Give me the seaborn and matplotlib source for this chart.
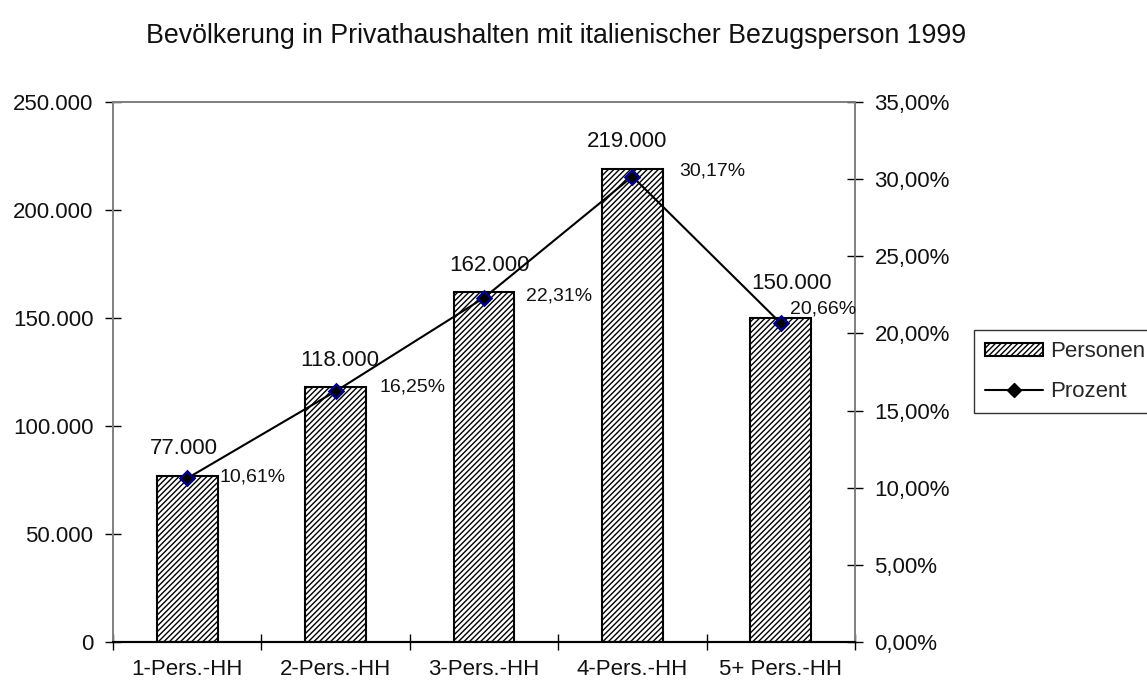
import matplotlib
matplotlib.use("Agg")
import matplotlib.pyplot as plt
from matplotlib.ticker import FuncFormatter, FixedLocator
from matplotlib.lines import Line2D
from matplotlib.patches import Patch
import seaborn as sns

categories = ["1-Pers.-HH", "2-Pers.-HH", "3-Pers.-HH", "4-Pers.-HH", "5+ Pers.-HH"]
personen = [77000, 118000, 162000, 219000, 150000]
prozent = [10.61, 16.25, 22.31, 30.17, 20.66]

# label placement (pixel offsets from the mark)
bar_label_offsets = [(-3, 27), (4, 27), (6, 27), (-5, 27), (11, 35)]
pct_label_offsets = [(32, 1), (44, 4), (42, 2), (47, 6), (9, 14)]

sns.set_theme(style="white")
plt.rcParams["font.family"] = ["Liberation Sans", "DejaVu Sans"]
plt.rcParams["hatch.color"] = "#444444"
plt.rcParams["hatch.linewidth"] = 1.0

FS = 16

fig = plt.figure(figsize=(11.47, 6.86), dpi=100)
ax = fig.add_axes([0.0985, 0.0641, 0.6469, 0.7872])

sns.barplot(x=categories, y=personen, color="white", width=0.41,
            edgecolor="black", linewidth=1.5, ax=ax, saturation=1)
for bar in ax.patches:
    bar.set_hatch("//////")

ax.set_xlim(-0.5, 4.5)
ax.set_ylim(0, 250000)
ax.set_xlabel("")
ax.set_ylabel("")

def de_int(v, pos):
    return f"{int(round(v)):,}".replace(",", ".")

def de_pct(v, pos=None):
    return f"{v:.2f}".replace(".", ",") + "%"

ax.yaxis.set_major_locator(FixedLocator([0, 50000, 100000, 150000, 200000, 250000]))
ax.yaxis.set_major_formatter(FuncFormatter(de_int))

for i, v in enumerate(personen):
    dx, dy = bar_label_offsets[i]
    ax.annotate(de_int(v, None), (i, v), xytext=(dx, dy), textcoords="offset pixels",
                ha="center", va="center", fontsize=FS, color="#111111")

ax2 = ax.twinx()
sns.lineplot(x=categories, y=prozent, ax=ax2, color="black", linewidth=1.5,
             marker="D", markersize=7, markerfacecolor="black",
             markeredgecolor="#000080", markeredgewidth=1.8, sort=False)
ax2.set_ylim(0, 35)
ax2.set_ylabel("")
ax2.yaxis.set_major_locator(FixedLocator([0, 5, 10, 15, 20, 25, 30, 35]))
ax2.yaxis.set_major_formatter(FuncFormatter(de_pct))

for i, v in enumerate(prozent):
    dx, dy = pct_label_offsets[i]
    ax2.annotate(de_pct(v), (i, v), xytext=(dx, dy), textcoords="offset pixels",
                 ha="left", va="center", fontsize=14, color="#111111")

# frame and ticks
for a in (ax, ax2):
    for side in ("left", "right", "top"):
        a.spines[side].set_color("#808080")
        a.spines[side].set_linewidth(1.2)
    a.spines["bottom"].set_color("black")
    a.spines["bottom"].set_linewidth(1.5)

ax.tick_params(axis="y", direction="inout", length=12, width=1, color="black",
               labelsize=FS, pad=8, left=True, labelcolor="#111111")
ax2.tick_params(axis="y", direction="inout", length=12, width=1, color="black",
                labelsize=FS, pad=8, right=True, labelcolor="#111111")
ax.set_xticks([0, 1, 2, 3, 4])
ax.set_xticklabels(categories)
ax.xaxis.set_minor_locator(FixedLocator([-0.5, 0.5, 1.5, 2.5, 3.5, 4.5]))
ax.tick_params(axis="x", which="major", length=0, labelsize=FS, pad=12,
               labelcolor="#111111")
ax.tick_params(axis="x", which="minor", direction="inout", length=12, width=1,
               color="black", bottom=True)

fig.text(0.485, 0.947,
         "Bevölkerung in Privathaushalten mit italienischer Bezugsperson 1999",
         ha="center", va="center", fontsize=19.3, color="#111111")

handles = [
    Patch(facecolor="white", edgecolor="black", hatch="//////", linewidth=1.5),
    Line2D([0], [0], color="black", linewidth=1.5, marker="D", markersize=7,
           markerfacecolor="black", markeredgecolor="black"),
]
leg = fig.legend(handles, ["Personen", "Prozent"], loc="center left",
                 bbox_to_anchor=(0.849, 0.458), fontsize=FS, frameon=True,
                 fancybox=False, edgecolor="black", handlelength=2.6,
                 handleheight=0.55, borderpad=0.5, labelspacing=0.85,
                 handletextpad=0.35, borderaxespad=0)
leg.get_frame().set_linewidth(1.0)

fig.savefig("out.png", dpi=100)
